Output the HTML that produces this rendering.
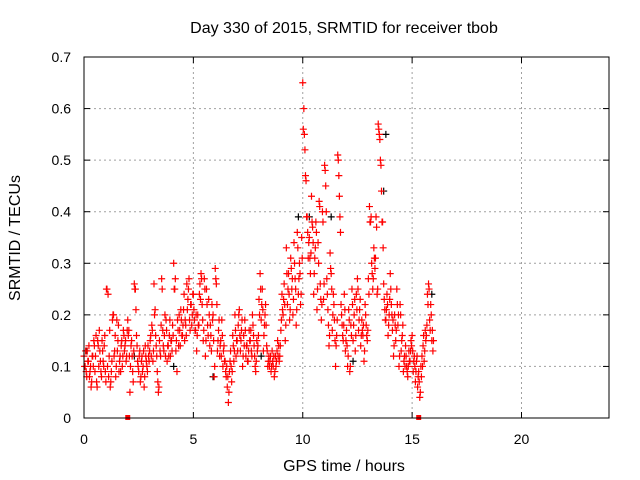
<!DOCTYPE html>
<html><head><meta charset="utf-8"><style>
body{margin:0;background:#fff}
svg{display:block;font-family:"Liberation Sans",sans-serif}
</style></head><body>
<svg id="chart" width="640" height="480" viewBox="0 0 640 480">
<rect width="640" height="480" fill="#fff"/>
<text x="344" y="33" font-size="16" text-anchor="middle">Day 330 of 2015, SRMTID for receiver tbob</text>
<text x="344" y="471" font-size="16" text-anchor="middle">GPS time / hours</text>
<text x="20" y="238" font-size="16" text-anchor="middle" transform="rotate(-90 20 238)">SRMTID / TECUs</text>
<g id="grid"></g><g id="ticks"></g><g id="marks-black"></g><g id="marks-red"></g>
<rect x="84" y="57" width="525" height="361" fill="none" stroke="#000" stroke-width="1"/>
</svg>
<script>
const xTicks=[0,5,10,15,20];
const yTicks=[0,0.1,0.2,0.3,0.4,0.5,0.6,0.7];
const yTickLabels=["0","0.1","0.2","0.3","0.4","0.5","0.6","0.7"];
const step=0.05;
const redValues=[
0.12,0.10,0.09,0.13,0.11,0.08,0.10,0.07,0.12,0.15,0.09,0.16,0.06,0.14,0.17,0.11,0.08,0.13,0.10,0.16,
0.07,0.25,0.24,0.12,0.06,0.09,0.19,0.20,0.13,0.08,0.19,0.15,0.09,0.12,0.14,0.10,0.17,0.13,0.15,0.12,
0.19,0.17,0.05,0.14,0.12,0.07,0.26,0.25,0.16,0.11,0.09,0.13,0.08,0.12,0.10,0.06,0.14,0.11,0.09,0.12,
0.13,0.16,0.18,0.11,0.26,0.21,0.14,0.09,0.05,0.15,0.12,0.27,0.17,0.13,0.20,0.19,0.11,0.14,0.16,0.12,
0.15,0.18,0.30,0.25,0.13,0.09,0.17,0.20,0.14,0.19,0.16,0.21,0.15,0.18,0.26,0.23,0.27,0.17,0.22,0.20,
0.24,0.19,0.17,0.13,0.20,0.18,0.26,0.28,0.22,0.15,0.27,0.12,0.25,0.18,0.23,0.14,0.16,0.22,0.20,0.08,
0.29,0.26,0.13,0.17,0.12,0.15,0.19,0.10,0.14,0.11,0.08,0.06,0.03,0.09,0.13,0.07,0.16,0.11,0.20,0.12,
0.15,0.18,0.21,0.13,0.17,0.10,0.16,0.19,0.12,0.14,0.11,0.17,0.15,0.13,0.20,0.16,0.12,0.09,0.15,0.14,
0.23,0.28,0.19,0.25,0.13,0.18,0.22,0.14,0.10,0.12,0.11,0.09,0.13,0.10,0.08,0.12,0.11,0.15,0.14,0.12,
0.17,0.24,0.20,0.26,0.15,0.33,0.22,0.28,0.19,0.31,0.25,0.20,0.34,0.27,0.18,0.36,0.24,0.30,0.22,0.35,
0.65,0.60,0.52,0.46,0.39,0.31,0.35,0.28,0.43,0.37,0.24,0.31,0.38,0.21,0.34,0.42,0.26,0.19,0.40,0.23,
0.49,0.45,0.27,0.21,0.14,0.32,0.28,0.17,0.24,0.19,0.10,0.16,0.51,0.47,0.39,0.22,0.18,0.15,0.24,0.13,
0.17,0.10,0.21,0.09,0.18,0.25,0.15,0.20,0.13,0.24,0.27,0.17,0.21,0.14,0.19,0.16,0.11,0.22,0.18,0.15,
0.27,0.41,0.38,0.30,0.25,0.33,0.29,0.39,0.24,0.57,0.55,0.50,0.44,0.38,0.26,0.21,0.19,0.24,0.16,0.20,
0.28,0.22,0.17,0.12,0.20,0.15,0.25,0.18,0.10,0.22,0.13,0.16,0.09,0.12,0.14,0.10,0.08,0.13,0.11,0.15,
0.16,0.09,0.12,0.07,0.11,0.06,0.09,0.04,0.10,0.12,0.14,0.11,0.17,0.16,0.24,0.26,0.19,0.22,0.15,0.13];
const redValues2=[
0.10,0.13,0.08,0.11,0.14,0.09,0.06,0.12,0.10,0.14,0.12,0.07,0.15,0.10,0.13,0.09,0.15,0.11,0.14,0.09,
0.25,0.10,0.08,0.17,0.07,0.11,0.20,0.12,0.16,0.10,0.13,0.18,0.11,0.09,0.15,0.12,0.16,0.14,0.11,0.17,
0.16,0.12,0.10,0.15,0.09,0.13,0.25,0.21,0.14,0.10,0.12,0.07,0.11,0.09,0.13,0.08,0.12,0.10,0.14,0.11,
0.15,0.12,0.17,0.13,0.20,0.16,0.12,0.07,0.06,0.13,0.18,0.25,0.14,0.16,0.12,0.17,0.14,0.12,0.19,0.15,
0.13,0.16,0.25,0.27,0.15,0.19,0.14,0.17,0.21,0.16,0.18,0.24,0.19,0.16,0.21,0.25,0.19,0.22,0.18,0.24,
0.21,0.17,0.20,0.16,0.18,0.24,0.23,0.27,0.19,0.17,0.25,0.15,0.22,0.16,0.20,0.18,0.13,0.19,0.15,0.10,
0.27,0.22,0.15,0.19,0.14,0.12,0.16,0.13,0.11,0.09,0.10,0.08,0.05,0.11,0.10,0.09,0.14,0.13,0.17,0.15,
0.13,0.20,0.16,0.15,0.19,0.12,0.14,0.17,0.14,0.11,0.13,0.15,0.17,0.12,0.18,0.14,0.10,0.11,0.13,0.16,
0.20,0.25,0.22,0.21,0.16,0.20,0.18,0.13,0.11,0.10,0.12,0.10,0.11,0.12,0.09,0.10,0.13,0.12,0.11,0.14,
0.19,0.21,0.23,0.22,0.18,0.28,0.25,0.24,0.21,0.29,0.27,0.23,0.30,0.25,0.21,0.33,0.27,0.28,0.24,0.31,
0.56,0.55,0.47,0.39,0.36,0.34,0.31,0.32,0.38,0.34,0.28,0.33,0.36,0.25,0.30,0.41,0.23,0.22,0.38,0.26,
0.48,0.40,0.24,0.18,0.16,0.29,0.25,0.20,0.22,0.15,0.14,0.19,0.50,0.43,0.36,0.20,0.16,0.18,0.21,0.15,
0.14,0.12,0.19,0.10,0.16,0.22,0.18,0.23,0.16,0.21,0.25,0.19,0.23,0.16,0.17,0.18,0.13,0.20,0.16,0.17,
0.24,0.38,0.39,0.28,0.27,0.31,0.31,0.37,0.25,0.56,0.54,0.49,0.38,0.33,0.23,0.19,0.21,0.22,0.18,0.23,
0.25,0.20,0.19,0.14,0.18,0.17,0.22,0.20,0.12,0.20,0.15,0.18,0.11,0.10,0.12,0.09,0.10,0.11,0.13,0.14,
0.13,0.11,0.10,0.09,0.12,0.08,0.07,0.05,0.08,0.10,0.16,0.13,0.15,0.18,0.22,0.25,0.17,0.20,0.17,0.15];
const blackTimes=[0.1,2.3,4.1,5.9,8.1,9.8,10.3,11.3,12.3,13.7,13.8,15.9];
const blackValues=[0.13,0.12,0.10,0.08,0.12,0.39,0.39,0.39,0.11,0.44,0.55,0.24];
const squareTimes=[2.0,15.3];
const NS="http://www.w3.org/2000/svg";
const X=t=>84+t*(525/24);
const Y=v=>418-v*(361/0.7);
const grid=document.getElementById('grid'),ticks=document.getElementById('ticks');
function mk(tag,attrs,parent){const e=document.createElementNS(NS,tag);for(const k in attrs)e.setAttribute(k,attrs[k]);parent.appendChild(e);return e;}
xTicks.forEach(t=>{
  const x=X(t);
  if(t>0){const g=mk('line',{x1:x,x2:x,y1:57,y2:418,stroke:'#a0a0a0','stroke-dasharray':'2,3'},grid);
  
  }
  mk('line',{x1:x,x2:x,y1:418,y2:412,stroke:'#000'},ticks);
  mk('line',{x1:x,x2:x,y1:57,y2:63,stroke:'#000'},ticks);
  const l=mk('text',{x:x,y:444,'font-size':14,'text-anchor':'middle'},ticks);l.textContent=t;
  
  
});
yTicks.forEach((v,i)=>{
  const y=Y(v);
  if(v>0&&v<0.7){const g=mk('line',{x1:84,x2:609,y1:y,y2:y,stroke:'#a0a0a0','stroke-dasharray':'2,3'},grid);
  
  }
  mk('line',{x1:84,x2:90,y1:y,y2:y,stroke:'#000'},ticks);
  mk('line',{x1:609,x2:603,y1:y,y2:y,stroke:'#000'},ticks);
  const l=mk('text',{x:71,y:y+5,'font-size':14,'text-anchor':'end'},ticks);l.textContent=yTickLabels[i];
  
  
});
function plus(x,y,col,parent){
  return mk('path',{d:`M${x-3.5},${y}h7M${x},${y-3.5}v7`,stroke:col,'stroke-width':1.2,fill:'none'},parent);
}
const bg=document.getElementById('marks-black');
blackValues.forEach((v,i)=>{
  const p=plus(X(blackTimes[i]),Y(v),'#000',bg);
  
  
});
const rg=document.getElementById('marks-red');
redValues.forEach((v,i)=>{
  const p=plus(X(i*step),Y(v),'#f00',rg);
  
  
});
redValues2.forEach((v,i)=>{
  const p=plus(X(i*step+step/2),Y(v),'#f00',rg);
  
  
});
squareTimes.forEach(t=>{
  const s=mk('rect',{x:X(t)-2.5,y:415,width:5,height:5,fill:'#f00'},rg);
  
  
});
</script>
</body></html>
